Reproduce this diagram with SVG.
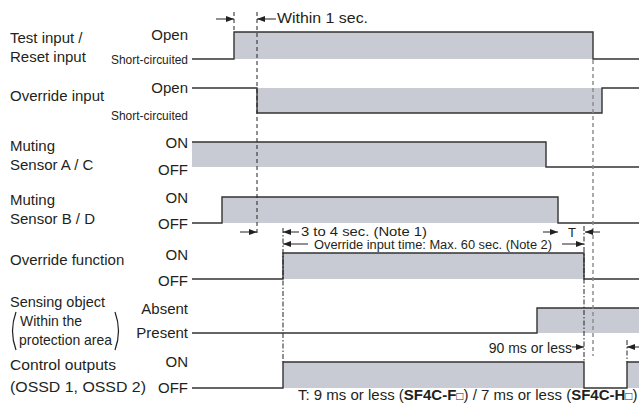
<svg xmlns="http://www.w3.org/2000/svg" width="639" height="406" viewBox="0 0 639 406">
<defs>
<marker id="ah" markerUnits="userSpaceOnUse" markerWidth="8" markerHeight="6" refX="8" refY="3" orient="auto">
<path d="M0,0 L8,3 L0,6 z" fill="#222"/>
</marker>
<style>
text{font-family:"Liberation Sans",Arial,sans-serif;fill:#231f20}
.lbl{font-size:15px}
.st{font-size:15px;text-anchor:end}
.sc{font-size:13px;text-anchor:end}
.tm{font-size:12px}
.fill{fill:#c9cbd4;stroke:none}
.wave{fill:none;stroke:#333;stroke-width:1.4}
.dash{fill:none;stroke:#222;stroke-width:1;stroke-dasharray:4,3}
.dashdot{fill:none;stroke:#222;stroke-width:1;stroke-dasharray:5,2,1.5,2}
.gdash{fill:none;stroke:#888;stroke-width:1.4;stroke-dasharray:4,3}
.arr{fill:none;stroke:#222;stroke-width:1;marker-end:url(#ah)}
</style>
</defs>
<rect width="639" height="406" fill="#fff"/>

<g id="test-input">
<rect class="fill" x="234" y="32" width="359" height="27"/>
<polyline class="wave" points="192,59 234,59 234,32 593,32 593,59 639,59"/>
<text class="lbl" x="10" y="43">Test input /</text>
<text class="lbl" x="10" y="62">Reset input</text>
<text class="st" x="188" y="40">Open</text>
<text class="sc" x="188" y="64" textLength="77" lengthAdjust="spacingAndGlyphs">Short-circuited</text>
</g>

<g id="override-input">
<rect class="fill" x="257" y="88" width="345" height="25"/>
<polyline class="wave" points="192,88 257,88 257,113 602,113 602,88 639,88"/>
<text class="lbl" x="10" y="101">Override input</text>
<text class="st" x="188" y="93">Open</text>
<text class="sc" x="188" y="120" textLength="77" lengthAdjust="spacingAndGlyphs">Short-circuited</text>
</g>

<g id="muting-ac">
<rect class="fill" x="192" y="142" width="354" height="25"/>
<polyline class="wave" points="192,142 546,142 546,167 639,167"/>
<text class="lbl" x="10" y="151">Muting</text>
<text class="lbl" x="10" y="170">Sensor A / C</text>
<text class="st" x="188" y="148">ON</text>
<text class="st" x="188" y="175">OFF</text>
</g>

<g id="muting-bd">
<rect class="fill" x="222" y="197" width="336" height="26"/>
<polyline class="wave" points="192,223 222,223 222,197 558,197 558,223 639,223"/>
<text class="lbl" x="10" y="205">Muting</text>
<text class="lbl" x="10" y="224">Sensor B / D</text>
<text class="st" x="188" y="203">ON</text>
<text class="st" x="188" y="229">OFF</text>
</g>

<g id="override-function">
<rect class="fill" x="283" y="253" width="301" height="26"/>
<polyline class="wave" points="192,279 283,279 283,253 584,253 584,279 639,279"/>
<text class="lbl" x="10" y="265">Override function</text>
<text class="st" x="188" y="260">ON</text>
<text class="st" x="188" y="286">OFF</text>
</g>

<g id="sensing-object">
<rect class="fill" x="537" y="308" width="102" height="25"/>
<polyline class="wave" points="192,333 537,333 537,308 639,308"/>
<text class="lbl" x="10" y="307" textLength="95" lengthAdjust="spacingAndGlyphs">Sensing object</text>
<text class="lbl" x="20" y="326" textLength="62" lengthAdjust="spacingAndGlyphs">Within the</text>
<text class="lbl" x="19" y="345" textLength="93" lengthAdjust="spacingAndGlyphs">protection area</text>
<path d="M16,312 Q9,331 16,350" fill="none" stroke="#231f20" stroke-width="1.2"/>
<path d="M115,312 Q122,331 115,350" fill="none" stroke="#231f20" stroke-width="1.2"/>
<text class="st" x="188" y="314">Absent</text>
<text class="st" x="188" y="338">Present</text>
</g>

<g id="control-outputs">
<rect class="fill" x="283" y="362" width="301" height="26"/>
<rect class="fill" x="627" y="362" width="12" height="26"/>
<polyline class="wave" points="192,388 283,388 283,362 584,362 584,388 627,388 627,362 639,362"/>
<text class="lbl" x="10" y="370" textLength="106" lengthAdjust="spacingAndGlyphs">Control outputs</text>
<text class="lbl" x="10" y="392" textLength="136" lengthAdjust="spacingAndGlyphs">(OSSD 1, OSSD 2)</text>
<text class="st" x="188" y="367">ON</text>
<text class="st" x="188" y="393">OFF</text>
</g>

<g id="connectors">
<line class="dash" x1="234" y1="12" x2="234" y2="31"/>
<line class="dash" x1="257" y1="12" x2="257" y2="233"/>
<line class="dashdot" x1="283" y1="228" x2="283" y2="362"/>
<line class="dashdot" x1="584" y1="226" x2="584" y2="362"/>
<line class="gdash" x1="593" y1="60" x2="593" y2="356"/>
<line class="dashdot" x1="627" y1="340" x2="627" y2="362"/>

<line class="arr" x1="216" y1="19" x2="234" y2="19"/>
<line class="arr" x1="276" y1="19" x2="257" y2="19"/>
<line class="arr" x1="240" y1="232" x2="257" y2="232"/>
<line class="arr" x1="299" y1="232" x2="283" y2="232"/>
<line class="arr" x1="308" y1="244" x2="283" y2="244"/>
<line class="arr" x1="562" y1="244" x2="584" y2="244"/>
<line class="arr" x1="543" y1="232" x2="558" y2="232"/>
<line class="arr" x1="600" y1="232" x2="585" y2="232"/>
<line class="arr" x1="572" y1="347" x2="584" y2="347"/>
<line class="arr" x1="639" y1="347" x2="627" y2="347"/>

<text x="277" y="23" style="font-size:14px" textLength="91" lengthAdjust="spacingAndGlyphs">Within 1 sec.</text>
<text class="tm" x="301" y="236" textLength="126" lengthAdjust="spacingAndGlyphs">3 to 4 sec. (Note 1)</text>
<text class="tm" x="314" y="249" textLength="238" lengthAdjust="spacingAndGlyphs">Override input time: Max. 60 sec. (Note 2)</text>
<text x="572" y="237" text-anchor="middle" style="font-size:13px">T</text>
<text x="572" y="353" text-anchor="end" style="font-size:14px">90 ms or less</text>
<text x="298" y="400" style="font-size:15px">T: 9 ms or less (<tspan font-weight="bold">SF4C-F</tspan><tspan style="font-size:12px">□</tspan>) / 7 ms or less (<tspan font-weight="bold">SF4C-H</tspan><tspan style="font-size:12px">□</tspan>)</text>
</g>
</svg>
